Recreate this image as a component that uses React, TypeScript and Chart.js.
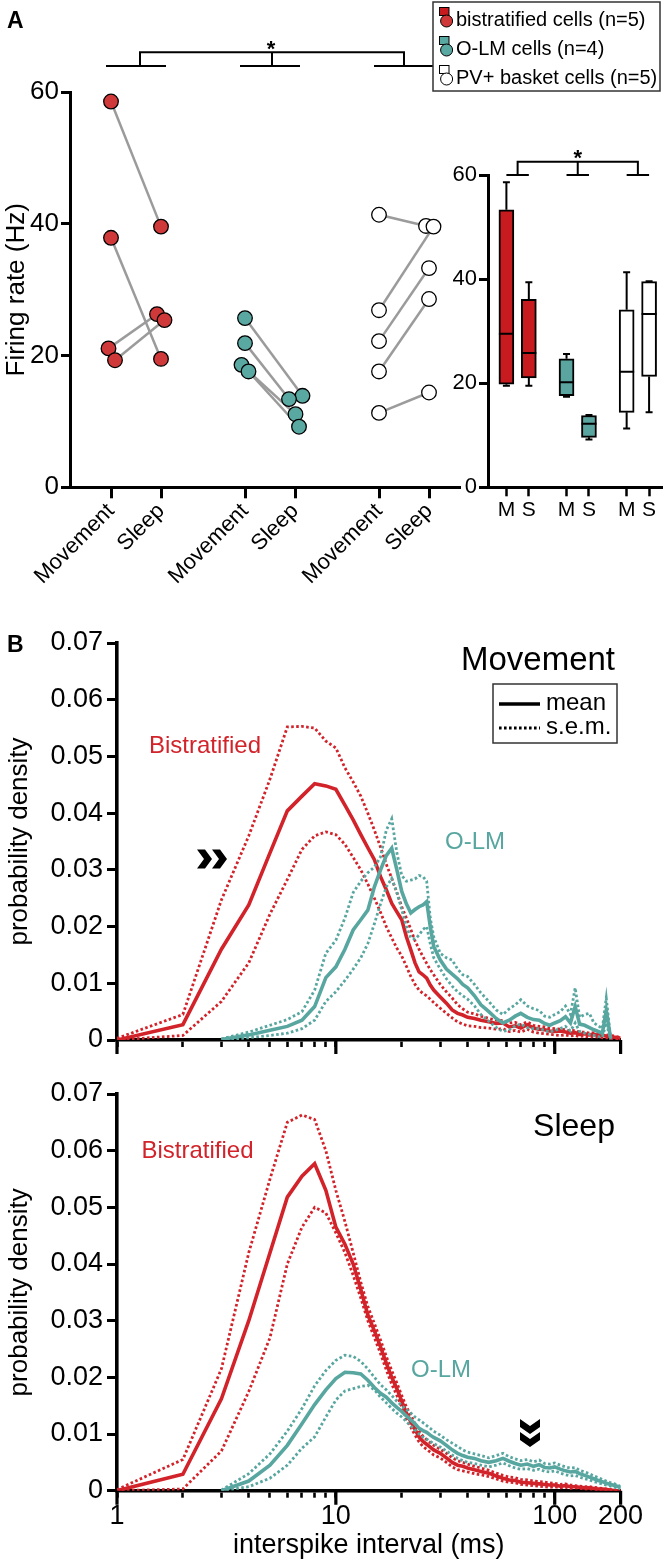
import React, { useEffect, useRef } from "react";
import { Chart, registerables } from "chart.js";

Chart.register(...registerables);

const FONT = '"Liberation Sans", Arial, Helvetica, sans-serif';
Chart.defaults.font.family = FONT;
Chart.defaults.color = "#000";

const RED_DOT = "#d0393a";
const TEAL_DOT = "#5aa8a2";
const RED_BOX = "#c81b20";
const TEAL_BOX = "#5aa5a0";
const RED_LINE = "#d2232a";
const TEAL_LINE = "#58a6a0";
const LINK = "#9b9b9b";

// ---------------- Panel A data ----------------
const conditionLabels = ["Movement", "Sleep", "Movement", "Sleep", "Movement", "Sleep"];
const conditionPositions = [0.82, 1.82, 3.5, 4.5, 6.18, 7.18];
const boxTickLabels = ["M", "S", "M", "S", "M", "S"];
const cellGroupLabels = ["bistratified cells (n=5)", "O-LM cells (n=4)", "PV+ basket cells (n=5)"];

const bisMovement = [58.6, 37.9, 21.1, 19.3];
const bisSleep = [39.6, 19.5, 26.3, 25.4];
const bisJitterMovement = [0, 0, -0.05, 0.08];
const bisJitterSleep = [0, 0, -0.08, 0.07];

const olmMovement = [25.7, 21.9, 18.6, 17.6];
const olmSleep = [13.9, 13.4, 11.1, 9.2];
const olmJitterMovement = [0, 0, -0.07, 0.07];
const olmJitterSleep = [0.15, -0.12, 0.01, 0.08];

const pvMovement = [41.4, 26.9, 22.2, 17.6, 11.3];
const pvSleep = [39.7, 39.6, 33.3, 28.6, 14.4];
const pvJitterMovement = [0, 0, 0, 0, 0];
const pvJitterSleep = [-0.06, 0.09, 0, 0, 0];

const boxMin = [19.5, 19.5, 17.4, 9.2, 11.3, 14.4];
const boxQ1 = [19.8, 21.0, 17.6, 9.6, 14.4, 21.3];
const boxMedian = [29.5, 25.8, 20.2, 12.2, 22.2, 33.3];
const boxQ3 = [53.3, 36.1, 24.7, 13.8, 34.1, 39.5];
const boxMax = [58.6, 39.4, 25.6, 13.9, 41.3, 39.6];
const boxFill = [RED_BOX, RED_BOX, TEAL_BOX, TEAL_BOX, "#ffffff", "#ffffff"];

// ---------------- Panel B data ----------------
const isiMs = [1, 2, 3, 4, 5, 6, 7, 8, 9, 10, 11, 12, 13, 14, 15, 16, 17, 18, 19, 20, 21, 22, 23, 24, 25, 26, 27, 28,
  30, 32, 34, 36, 38, 40, 43, 46, 50, 54, 58, 62, 66, 70, 75, 80, 85, 90, 95, 100,
  106, 112, 118, 124, 130, 137, 144, 151, 158, 165, 172, 180, 188, 196, 200];
const isiTicks = [1, 2, 3, 4, 5, 6, 7, 8, 9, 10, 20, 30, 40, 50, 60, 70, 80, 90, 100, 200];
const isiMajorTicks = [1, 10, 100, 200];

const mvBisMean = [0, 0.0027, 0.0160, 0.0238, 0.0330, 0.0404, 0.0430, 0.0452, 0.0448, 0.0442,
  0.0414, 0.0388, 0.0362, 0.0339, 0.0318, 0.0288, 0.0265, 0.0241, 0.0226, 0.0212,
  0.0182, 0.0159, 0.0136, 0.0120, 0.0115, 0.0109, 0.0097, 0.0088, 0.0076, 0.0065,
  0.0053, 0.0047, 0.0044, 0.0040, 0.0038, 0.0035, 0.0032, 0.0029, 0.0030, 0.0023,
  0.0025, 0.0021, 0.0027, 0.0021, 0.0019, 0.0018, 0.0016, 0.0015, 0.0016, 0.0014,
  0.0012, 0.0013, 0.0010, 0.0011, 0.0009, 0.0010, 0.0008, 0.0008, 0.0007, 0.0006,
  0.0005, 0.0004, 0.0003];
const mvBisUpper = [0.0003, 0.0045, 0.0247, 0.0360, 0.0460, 0.0552, 0.0553, 0.0550, 0.0527, 0.0515,
  0.0480, 0.0455, 0.0430, 0.0400, 0.0370, 0.0340, 0.0310, 0.0285, 0.0260, 0.0235,
  0.0215, 0.0195, 0.0175, 0.0160, 0.0147, 0.0135, 0.0124, 0.0115, 0.0098, 0.0085,
  0.0074, 0.0062, 0.0055, 0.0049, 0.0046, 0.0042, 0.0038, 0.0035, 0.0034, 0.0030,
  0.0031, 0.0027, 0.0032, 0.0026, 0.0024, 0.0023, 0.0021, 0.0020, 0.0019, 0.0018,
  0.0016, 0.0017, 0.0014, 0.0014, 0.0012, 0.0013, 0.0011, 0.0010, 0.0009, 0.0008,
  0.0007, 0.0005, 0.0004];
const mvBisLower = [0, 0.0008, 0.0068, 0.0136, 0.0222, 0.0283, 0.0336, 0.0360, 0.0367, 0.0362,
  0.0345, 0.0322, 0.0300, 0.0275, 0.0250, 0.0225, 0.0200, 0.0180, 0.0162, 0.0148,
  0.0130, 0.0112, 0.0098, 0.0088, 0.0082, 0.0078, 0.0072, 0.0066, 0.0056, 0.0047,
  0.0039, 0.0032, 0.0028, 0.0025, 0.0024, 0.0022, 0.0021, 0.0019, 0.0020, 0.0015,
  0.0017, 0.0014, 0.0019, 0.0014, 0.0012, 0.0011, 0.0010, 0.0009, 0.0008, 0.0009,
  0.0007, 0.0008, 0.0006, 0.0007, 0.0005, 0.0006, 0.0005, 0.0004, 0.0004, 0.0003,
  0.0002, 0.0002, 0.0001];
const mvOlmMean = [null, null, 0.0001, 0.0009, 0.0017, 0.0024, 0.0035, 0.0059, 0.0110, 0.0129,
  0.0160, 0.0194, 0.0212, 0.0229, 0.0270, 0.0300, 0.0325, 0.0338, 0.0300, 0.0262,
  0.0240, 0.0224, 0.0230, 0.0235, 0.0238, 0.0244, 0.0200, 0.0165, 0.0141, 0.0125,
  0.0116, 0.0108, 0.0098, 0.0092, 0.0078, 0.0062, 0.0050, 0.0038, 0.0030, 0.0035,
  0.0042, 0.0047, 0.0040, 0.0036, 0.0035, 0.0029, 0.0026, 0.0030, 0.0034, 0.0041,
  0.0030, 0.0059, 0.0028, 0.0026, 0.0022, 0.0018, 0.0015, 0.0012, 0.0052, 0.0003,
  null, null, null];
const mvOlmUpper = [null, null, 0.0002, 0.0014, 0.0026, 0.0036, 0.0050, 0.0088, 0.0153, 0.0176,
  0.0215, 0.0260, 0.0280, 0.0295, 0.0305, 0.0323, 0.0370, 0.0390, 0.0330, 0.0290,
  0.0280, 0.0282, 0.0284, 0.0290, 0.0288, 0.0280, 0.0215, 0.0182, 0.0153, 0.0145,
  0.0141, 0.0125, 0.0115, 0.0112, 0.0098, 0.0083, 0.0068, 0.0053, 0.0045, 0.0055,
  0.0062, 0.0071, 0.0060, 0.0055, 0.0052, 0.0042, 0.0040, 0.0045, 0.0050, 0.0060,
  0.0045, 0.0092, 0.0040, 0.0045, 0.0047, 0.0030, 0.0025, 0.0020, 0.0074, 0.0004,
  null, null, null];
const mvOlmLower = [null, null, 0, 0.0004, 0.0008, 0.0012, 0.0020, 0.0035, 0.0068, 0.0085,
  0.0105, 0.0125, 0.0145, 0.0170, 0.0205, 0.0240, 0.0270, 0.0285, 0.0260, 0.0230,
  0.0200, 0.0180, 0.0178, 0.0185, 0.0195, 0.0200, 0.0170, 0.0145, 0.0125, 0.0108,
  0.0095, 0.0085, 0.0078, 0.0072, 0.0060, 0.0045, 0.0033, 0.0022, 0.0015, 0.0018,
  0.0025, 0.0028, 0.0022, 0.0020, 0.0020, 0.0017, 0.0014, 0.0017, 0.0020, 0.0024,
  0.0016, 0.0030, 0.0015, 0.0012, 0.0010, 0.0008, 0.0006, 0.0005, 0.0030, 0.0001,
  null, null, null];

const slBisMean = [0, 0.0029, 0.0162, 0.0300, 0.0420, 0.0518, 0.0555, 0.0577, 0.0530, 0.0465,
  0.0435, 0.0400, 0.0355, 0.0310, 0.0282, 0.0254, 0.0225, 0.0200, 0.0180, 0.0158,
  0.0137, 0.0122, 0.0108, 0.0095, 0.0087, 0.0082, 0.0077, 0.0072, 0.0066, 0.0058,
  0.0050, 0.0045, 0.0043, 0.0040, 0.0037, 0.0034, 0.0031, 0.0026, 0.0022, 0.0019,
  0.0018, 0.0015, 0.0014, 0.0013, 0.0012, 0.0011, 0.0010, 0.0010, 0.0008, 0.0009,
  0.0007, 0.0007, 0.0006, 0.0005, 0.0005, 0.0004, 0.0003, 0.0003, 0.0002, 0.0001,
  0, 0, 0];
const slBisUpper = [0.0002, 0.0055, 0.0215, 0.0420, 0.0550, 0.0650, 0.0663, 0.0655, 0.0600, 0.0530,
  0.0475, 0.0420, 0.0368, 0.0325, 0.0295, 0.0266, 0.0237, 0.0212, 0.0190, 0.0168,
  0.0148, 0.0133, 0.0118, 0.0105, 0.0096, 0.0090, 0.0085, 0.0080, 0.0073, 0.0066,
  0.0058, 0.0053, 0.0050, 0.0047, 0.0043, 0.0040, 0.0036, 0.0031, 0.0027, 0.0024,
  0.0023, 0.0020, 0.0019, 0.0017, 0.0016, 0.0015, 0.0014, 0.0013, 0.0011, 0.0012,
  0.0010, 0.0009, 0.0008, 0.0007, 0.0007, 0.0006, 0.0005, 0.0004, 0.0003, 0.0002,
  0.0001, 0, 0];
const slBisLower = [0, 0.0003, 0.0070, 0.0175, 0.0270, 0.0400, 0.0465, 0.0500, 0.0490, 0.0455,
  0.0420, 0.0380, 0.0340, 0.0300, 0.0270, 0.0242, 0.0213, 0.0188, 0.0168, 0.0148,
  0.0127, 0.0112, 0.0098, 0.0086, 0.0078, 0.0073, 0.0068, 0.0063, 0.0058, 0.0050,
  0.0042, 0.0037, 0.0035, 0.0033, 0.0030, 0.0028, 0.0025, 0.0021, 0.0017, 0.0015,
  0.0014, 0.0011, 0.0010, 0.0009, 0.0008, 0.0007, 0.0006, 0.0007, 0.0005, 0.0006,
  0.0004, 0.0005, 0.0004, 0.0003, 0.0003, 0.0002, 0.0002, 0.0001, 0.0001, 0,
  0, 0, 0];
const slOlmMean = [null, null, 0.0000, 0.0017, 0.0045, 0.0080, 0.0118, 0.0152, 0.0178, 0.0198,
  0.0209, 0.0208, 0.0206, 0.0195, 0.0182, 0.0172, 0.0165, 0.0155, 0.0147, 0.0140,
  0.0132, 0.0125, 0.0118, 0.0110, 0.0106, 0.0103, 0.0098, 0.0094, 0.0088, 0.0080,
  0.0072, 0.0066, 0.0062, 0.0059, 0.0057, 0.0053, 0.0050, 0.0053, 0.0057, 0.0052,
  0.0048, 0.0045, 0.0047, 0.0043, 0.0046, 0.0041, 0.0040, 0.0042, 0.0038, 0.0035,
  0.0033, 0.0034, 0.0030, 0.0027, 0.0024, 0.0021, 0.0018, 0.0016, 0.0013, 0.0011,
  0.0009, 0.0007, 0.0005];
const slOlmUpper = [null, null, 0.0001, 0.0030, 0.0065, 0.0105, 0.0145, 0.0185, 0.0212, 0.0230,
  0.0239, 0.0237, 0.0228, 0.0215, 0.0200, 0.0187, 0.0178, 0.0168, 0.0158, 0.0150,
  0.0143, 0.0137, 0.0130, 0.0125, 0.0120, 0.0115, 0.0110, 0.0105, 0.0098, 0.0090,
  0.0084, 0.0078, 0.0072, 0.0068, 0.0065, 0.0062, 0.0058, 0.0062, 0.0066, 0.0060,
  0.0056, 0.0053, 0.0055, 0.0051, 0.0054, 0.0048, 0.0047, 0.0049, 0.0045, 0.0042,
  0.0040, 0.0041, 0.0036, 0.0033, 0.0030, 0.0026, 0.0023, 0.0020, 0.0017, 0.0014,
  0.0012, 0.0009, 0.0007];
const slOlmLower = [null, null, 0, 0.0007, 0.0022, 0.0045, 0.0075, 0.0095, 0.0130, 0.0160,
  0.0176, 0.0180, 0.0184, 0.0186, 0.0178, 0.0165, 0.0155, 0.0145, 0.0137, 0.0130,
  0.0122, 0.0114, 0.0107, 0.0100, 0.0095, 0.0091, 0.0087, 0.0083, 0.0077, 0.0070,
  0.0063, 0.0057, 0.0053, 0.0050, 0.0048, 0.0045, 0.0042, 0.0045, 0.0049, 0.0044,
  0.0040, 0.0038, 0.0039, 0.0036, 0.0038, 0.0034, 0.0033, 0.0035, 0.0031, 0.0028,
  0.0026, 0.0027, 0.0024, 0.0021, 0.0019, 0.0016, 0.0014, 0.0012, 0.0010, 0.0008,
  0.0006, 0.0005, 0.0003];

// ---------------- helpers ----------------
const axisGrid = (tickLength: number, tickWidth: number) => ({
  drawOnChartArea: false,
  drawTicks: true,
  tickLength,
  tickWidth,
  tickColor: "#000",
  color: "#000",
});
const axisBorder = (width: number) => ({ display: true, width, color: "#000" });

function chevronRight(ctx: CanvasRenderingContext2D, x0: number, yc: number, w: number, h: number, t: number) {
  ctx.beginPath();
  ctx.moveTo(x0, yc - h / 2);
  ctx.lineTo(x0 + t, yc - h / 2);
  ctx.lineTo(x0 + w, yc);
  ctx.lineTo(x0 + t, yc + h / 2);
  ctx.lineTo(x0, yc + h / 2);
  ctx.lineTo(x0 + w - t, yc);
  ctx.closePath();
  ctx.fill();
}
function chevronDown(ctx: CanvasRenderingContext2D, xc: number, y0: number, w: number, h: number, t: number) {
  ctx.beginPath();
  ctx.moveTo(xc - w / 2, y0);
  ctx.lineTo(xc - w / 2, y0 + t);
  ctx.lineTo(xc, y0 + h);
  ctx.lineTo(xc + w / 2, y0 + t);
  ctx.lineTo(xc + w / 2, y0);
  ctx.lineTo(xc, y0 + h - t);
  ctx.closePath();
  ctx.fill();
}

// ---------------- Panel A: firing rate ----------------
function makeRateChart(): any {
  const groups = [
    { mv: bisMovement, sl: bisSleep, jm: bisJitterMovement, js: bisJitterSleep, fill: RED_DOT, mi: 0, si: 1 },
    { mv: olmMovement, sl: olmSleep, jm: olmJitterMovement, js: olmJitterSleep, fill: TEAL_DOT, mi: 2, si: 3 },
    { mv: pvMovement, sl: pvSleep, jm: pvJitterMovement, js: pvJitterSleep, fill: "#ffffff", mi: 4, si: 5 },
  ];
  const datasets: any[] = [];
  groups.forEach((g) => {
    g.mv.forEach((m, i) => {
      datasets.push({
        type: "line",
        data: [
          { x: conditionPositions[g.mi] + g.jm[i], y: m },
          { x: conditionPositions[g.si] + g.js[i], y: g.sl[i] },
        ],
        borderColor: LINK,
        borderWidth: 2.5,
        pointRadius: 0,
        order: 2,
      });
    });
  });
  groups.forEach((g) => {
    datasets.push({
      type: "scatter",
      data: [
        ...g.mv.map((m, i) => ({ x: conditionPositions[g.mi] + g.jm[i], y: m })),
        ...g.sl.map((s, i) => ({ x: conditionPositions[g.si] + g.js[i], y: s })),
      ],
      backgroundColor: g.fill,
      borderColor: "#000",
      borderWidth: 1.3,
      pointRadius: 7.3,
      order: 1,
    });
  });

  const annotations = {
    id: "rateAnnotations",
    afterDraw(chart: any) {
      const { ctx } = chart;
      const xs = chart.scales.x;
      ctx.save();
      ctx.fillStyle = "#000";
      ctx.font = `bold 23px ${FONT}`;
      ctx.textAlign = "left";
      ctx.textBaseline = "alphabetic";
      ctx.fillText("A", 7, 28);

      // significance bracket
      ctx.strokeStyle = "#000";
      ctx.lineWidth = 2;
      const centers = [0, 2, 4].map((i) => xs.getPixelForValue((conditionPositions[i] + conditionPositions[i + 1]) / 2));
      ctx.beginPath();
      ctx.moveTo(centers[0] + 4, 66);
      ctx.lineTo(centers[0] + 4, 52.3);
      ctx.lineTo(centers[2], 52.3);
      ctx.lineTo(centers[2], 66);
      ctx.moveTo(centers[1] + 2, 52.3);
      ctx.lineTo(centers[1] + 2, 66);
      [0, 2, 4].forEach((i) => {
        ctx.moveTo(xs.getPixelForValue(conditionPositions[i]) - 5, 66);
        ctx.lineTo(xs.getPixelForValue(conditionPositions[i + 1]) + 5, 66);
      });
      ctx.stroke();
      ctx.font = `bold 22px ${FONT}`;
      ctx.textAlign = "center";
      ctx.fillText("*", centers[1] + 1, 56);

      // legend
      ctx.fillStyle = "#fff";
      ctx.fillRect(433, 2, 227, 89);
      ctx.strokeStyle = "#333";
      ctx.lineWidth = 1.5;
      ctx.strokeRect(433, 2, 227, 89);
      const fills = [RED_DOT, TEAL_DOT, "#ffffff"];
      cellGroupLabels.forEach((label, i) => {
        const cy = 20.5 + i * 29;
        ctx.fillStyle = i === 0 ? RED_BOX : fills[i];
        ctx.strokeStyle = "#000";
        ctx.lineWidth = 1;
        ctx.fillRect(439.5, cy - 13, 9.5, 8);
        ctx.strokeRect(439.5, cy - 13, 9.5, 8);
        ctx.beginPath();
        ctx.arc(446.6, cy + 0.5, 6, 0, Math.PI * 2);
        ctx.fillStyle = fills[i];
        ctx.fill();
        ctx.stroke();
        ctx.fillStyle = "#000";
        ctx.font = `20px ${FONT}`;
        ctx.textAlign = "left";
        ctx.textBaseline = "middle";
        ctx.fillText(label, 456, cy);
      });
      ctx.restore();
    },
  };

  return {
    type: "scatter",
    data: { datasets },
    options: {
      animation: false,
      responsive: false,
      devicePixelRatio: 1,
      layout: { padding: { left: 0, right: 203, top: 92.3, bottom: 0 } },
      plugins: { legend: { display: false }, tooltip: { enabled: false } },
      scales: {
        x: {
          type: "linear",
          min: 0,
          max: 7.8,
          afterBuildTicks: (s: any) => {
            s.ticks = conditionPositions.map((v) => ({ value: v }));
          },
          afterFit: (s: any) => {
            s.height = 595 - 487.3;
          },
          ticks: {
            autoSkip: false,
            minRotation: 45,
            maxRotation: 45,
            padding: 0,
            color: "#000",
            font: { size: 22 },
            callback: (_v: any, i: number) => conditionLabels[i],
          },
          grid: axisGrid(11, 3),
          border: axisBorder(3),
        },
        y: {
          min: 0,
          max: 60,
          afterFit: (s: any) => {
            s.width = 70;
          },
          ticks: { stepSize: 20, padding: 2, color: "#000", font: { size: 26 } },
          title: { display: true, text: "Firing rate (Hz)", color: "#000", font: { size: 26 }, padding: { top: 1, bottom: 0 } },
          grid: axisGrid(9, 3),
          border: axisBorder(3),
        },
      },
    },
    plugins: [annotations],
  };
}

// ---------------- Panel A: box plot ----------------
function makeBoxChart(): any {
  const whiskers = {
    id: "boxWhiskers",
    afterDatasetsDraw(chart: any) {
      const { ctx } = chart;
      const xs = chart.scales.x;
      const ys = chart.scales.y;
      ctx.save();
      ctx.strokeStyle = "#000";
      ctx.lineWidth = 2;
      ctx.beginPath();
      conditionPositions.forEach((p, i) => {
        const cx = xs.getPixelForValue(p);
        ctx.moveTo(cx - 7.5, ys.getPixelForValue(boxMedian[i]));
        ctx.lineTo(cx + 7.5, ys.getPixelForValue(boxMedian[i]));
        ctx.moveTo(cx, ys.getPixelForValue(boxQ3[i]));
        ctx.lineTo(cx, ys.getPixelForValue(boxMax[i]));
        ctx.moveTo(cx - 3.5, ys.getPixelForValue(boxMax[i]));
        ctx.lineTo(cx + 3.5, ys.getPixelForValue(boxMax[i]));
        ctx.moveTo(cx, ys.getPixelForValue(boxQ1[i]));
        ctx.lineTo(cx, ys.getPixelForValue(boxMin[i]));
        ctx.moveTo(cx - 3.5, ys.getPixelForValue(boxMin[i]));
        ctx.lineTo(cx + 3.5, ys.getPixelForValue(boxMin[i]));
      });
      ctx.stroke();
      ctx.restore();
    },
    afterDraw(chart: any) {
      const { ctx } = chart;
      const xs = chart.scales.x;
      const top = chart.chartArea.top;
      ctx.save();
      ctx.strokeStyle = "#000";
      ctx.lineWidth = 2;
      const centers = [0, 2, 4].map((i) => xs.getPixelForValue((conditionPositions[i] + conditionPositions[i + 1]) / 2));
      const yb = top - 13.3;
      ctx.beginPath();
      ctx.moveTo(centers[0], top);
      ctx.lineTo(centers[0], yb);
      ctx.lineTo(centers[2], yb);
      ctx.lineTo(centers[2], top);
      ctx.moveTo(centers[1], yb);
      ctx.lineTo(centers[1], top);
      [0, 2, 4].forEach((i) => {
        ctx.moveTo(xs.getPixelForValue(conditionPositions[i]), top);
        ctx.lineTo(xs.getPixelForValue(conditionPositions[i + 1]), top);
      });
      ctx.stroke();
      ctx.fillStyle = "#000";
      ctx.font = `bold 22px ${FONT}`;
      ctx.textAlign = "center";
      ctx.textBaseline = "alphabetic";
      ctx.fillText("*", centers[1], yb + 3.5);
      ctx.restore();
    },
  };
  return {
    type: "bar",
    data: {
      datasets: [
        {
          data: conditionPositions.map((p, i) => ({ x: p, y: [boxQ1[i], boxQ3[i]] })),
          backgroundColor: boxFill,
          borderColor: "#000",
          borderWidth: 2,
          borderSkipped: false,
          barThickness: 15,
        },
      ],
    },
    options: {
      animation: false,
      responsive: false,
      devicePixelRatio: 1,
      layout: { padding: { left: 0, right: 0, top: 75, bottom: 0 } },
      plugins: { legend: { display: false }, tooltip: { enabled: false } },
      scales: {
        x: {
          type: "linear",
          min: 0,
          max: 7.8,
          offset: false,
          afterBuildTicks: (s: any) => {
            s.ticks = conditionPositions.map((v) => ({ value: v }));
          },
          afterFit: (s: any) => {
            s.height = 440 - 387.3;
          },
          ticks: {
            autoSkip: false,
            maxRotation: 0,
            minRotation: 0,
            padding: 1,
            color: "#000",
            font: { size: 21 },
            callback: (_v: any, i: number) => boxTickLabels[i],
          },
          grid: { ...axisGrid(9, 2.5), offset: false },
          border: axisBorder(3),
        },
        y: {
          min: 0,
          max: 60,
          afterFit: (s: any) => {
            s.width = 48;
          },
          ticks: { stepSize: 20, padding: 2, color: "#000", font: { size: 22 } },
          grid: axisGrid(9, 3),
          border: axisBorder(3),
        },
      },
    },
    plugins: [whiskers],
  };
}

// ---------------- Panel B: ISI distributions ----------------
function isiSeries(values: (number | null)[]) {
  return isiMs.map((x, i) => ({ x, y: values[i] }));
}

function makeIsiChart(kind: "movement" | "sleep"): any {
  const mv = kind === "movement";
  const series = mv
    ? { bm: mvBisMean, bu: mvBisUpper, bl: mvBisLower, om: mvOlmMean, ou: mvOlmUpper, ol: mvOlmLower }
    : { bm: slBisMean, bu: slBisUpper, bl: slBisLower, om: slOlmMean, ou: slOlmUpper, ol: slOlmLower };
  const solid = (data: any, color: string) => ({
    data: isiSeries(data), borderColor: color, borderWidth: 3.6, pointRadius: 0, tension: 0, fill: false,
  });
  const dotted = (data: any, color: string) => ({
    data: isiSeries(data), borderColor: color, borderWidth: 2.8, borderDash: [2.6, 2.4], pointRadius: 0, tension: 0, fill: false,
  });
  const height = mv ? 470 : 494;
  const top = mv ? 43 : 24;
  const bottom = mv ? 440 : 420.7;

  const annotations = {
    id: "isiAnnotations",
    afterDraw(chart: any) {
      const { ctx } = chart;
      const xs = chart.scales.x;
      const b = chart.chartArea.bottom;
      ctx.save();
      // longer decade ticks
      ctx.strokeStyle = "#000";
      ctx.lineWidth = 3.2;
      ctx.beginPath();
      isiMajorTicks.forEach((v) => {
        const px = xs.getPixelForValue(v);
        ctx.moveTo(px, b);
        ctx.lineTo(px, b + 14);
      });
      ctx.stroke();

      ctx.textBaseline = "middle";
      ctx.textAlign = "left";
      if (mv) {
        ctx.fillStyle = "#000";
        ctx.font = `bold 23px ${FONT}`;
        ctx.textBaseline = "alphabetic";
        ctx.fillText("B", 7, 52);
        ctx.textBaseline = "middle";
        ctx.font = `33px ${FONT}`;
        ctx.textAlign = "center";
        ctx.fillText("Movement", 538, 61);
        // mean / s.e.m. key
        ctx.strokeStyle = "#333";
        ctx.lineWidth = 1.5;
        ctx.strokeRect(493, 84, 124, 59);
        ctx.strokeStyle = "#000";
        ctx.lineWidth = 3.6;
        ctx.beginPath();
        ctx.moveTo(499, 104);
        ctx.lineTo(540, 104);
        ctx.stroke();
        ctx.lineWidth = 2.8;
        ctx.setLineDash([2.6, 2.4]);
        ctx.beginPath();
        ctx.moveTo(499, 128);
        ctx.lineTo(540, 128);
        ctx.stroke();
        ctx.setLineDash([]);
        ctx.font = `24px ${FONT}`;
        ctx.textAlign = "left";
        ctx.fillText("mean", 546, 103);
        ctx.fillText("s.e.m.", 546, 127);
        ctx.fillStyle = RED_LINE;
        ctx.fillText("Bistratified", 149, 146);
        ctx.fillStyle = TEAL_LINE;
        ctx.fillText("O-LM", 445, 242);
        ctx.fillStyle = "#000";
        chevronRight(ctx, 197, 259, 15, 19, 8);
        chevronRight(ctx, 212, 259, 15, 19, 8);
      } else {
        ctx.fillStyle = "#000";
        ctx.font = `32px ${FONT}`;
        ctx.textAlign = "center";
        ctx.fillText("Sleep", 574, 57);
        ctx.font = `24px ${FONT}`;
        ctx.textAlign = "left";
        ctx.fillStyle = RED_LINE;
        ctx.fillText("Bistratified", 141.5, 81);
        ctx.fillStyle = TEAL_LINE;
        ctx.fillText("O-LM", 411, 300);
        ctx.fillStyle = "#000";
        chevronDown(ctx, 530, 349, 20, 15, 8);
        chevronDown(ctx, 530, 362, 20, 15, 8);
      }
      ctx.restore();
    },
  };

  return {
    type: "line",
    data: {
      datasets: [
        solid(series.om, TEAL_LINE),
        dotted(series.ou, TEAL_LINE),
        dotted(series.ol, TEAL_LINE),
        solid(series.bm, RED_LINE),
        dotted(series.bu, RED_LINE),
        dotted(series.bl, RED_LINE),
      ],
    },
    options: {
      animation: false,
      responsive: false,
      devicePixelRatio: 1,
      layout: { padding: { left: 0, right: 42.4, top, bottom: 0 } },
      plugins: { legend: { display: false }, tooltip: { enabled: false } },
      scales: {
        x: {
          type: "logarithmic",
          min: 1,
          max: 200,
          afterBuildTicks: (s: any) => {
            s.ticks = isiTicks.map((v) => ({ value: v }));
          },
          afterFit: (s: any) => {
            s.height = height - bottom;
          },
          ticks: {
            autoSkip: false,
            maxRotation: 0,
            minRotation: 0,
            padding: 3,
            color: "#000",
            font: { size: 27 },
            callback: (v: any) => (!mv && isiMajorTicks.includes(Number(v)) ? String(v) : ""),
          },
          title: {
            display: !mv,
            text: "interspike interval (ms)",
            color: "#000",
            font: { size: 27 },
            padding: { top: 0, bottom: 2 },
          },
          grid: axisGrid(7, 2.6),
          border: axisBorder(3.6),
        },
        y: {
          min: 0,
          max: 0.07,
          afterFit: (s: any) => {
            s.width = 117;
          },
          ticks: {
            stepSize: 0.01,
            padding: 4,
            color: "#000",
            font: { size: 27 },
            callback: (v: any) => (Number(v) === 0 ? "0" : Number(v).toFixed(2)),
          },
          title: { display: true, text: "probability density", color: "#000", font: { size: 26 }, padding: { top: 4, bottom: 0 } },
          grid: axisGrid(10, 3),
          border: axisBorder(3.6),
        },
      },
    },
    plugins: [annotations],
  };
}

function ChartCanvas(props: { left: number; top: number; width: number; height: number; make: () => any }) {
  const ref = useRef<HTMLCanvasElement>(null);
  useEffect(() => {
    const chart = new Chart(ref.current as HTMLCanvasElement, props.make());
    return () => chart.destroy();
  }, []);
  return (
    <canvas
      ref={ref}
      width={props.width}
      height={props.height}
      style={{ position: "absolute", left: props.left, top: props.top, width: props.width, height: props.height }}
    />
  );
}

export default function App() {
  return (
    <div style={{ position: "absolute", left: 0, top: 0, width: 663, height: 1564, background: "#fff", overflow: "hidden" }}>
      <ChartCanvas left={0} top={0} width={663} height={595} make={makeRateChart} />
      <ChartCanvas left={440} top={100} width={223} height={440} make={makeBoxChart} />
      <ChartCanvas left={0} top={600} width={663} height={470} make={() => makeIsiChart("movement")} />
      <ChartCanvas left={0} top={1070} width={663} height={494} make={() => makeIsiChart("sleep")} />
    </div>
  );
}
